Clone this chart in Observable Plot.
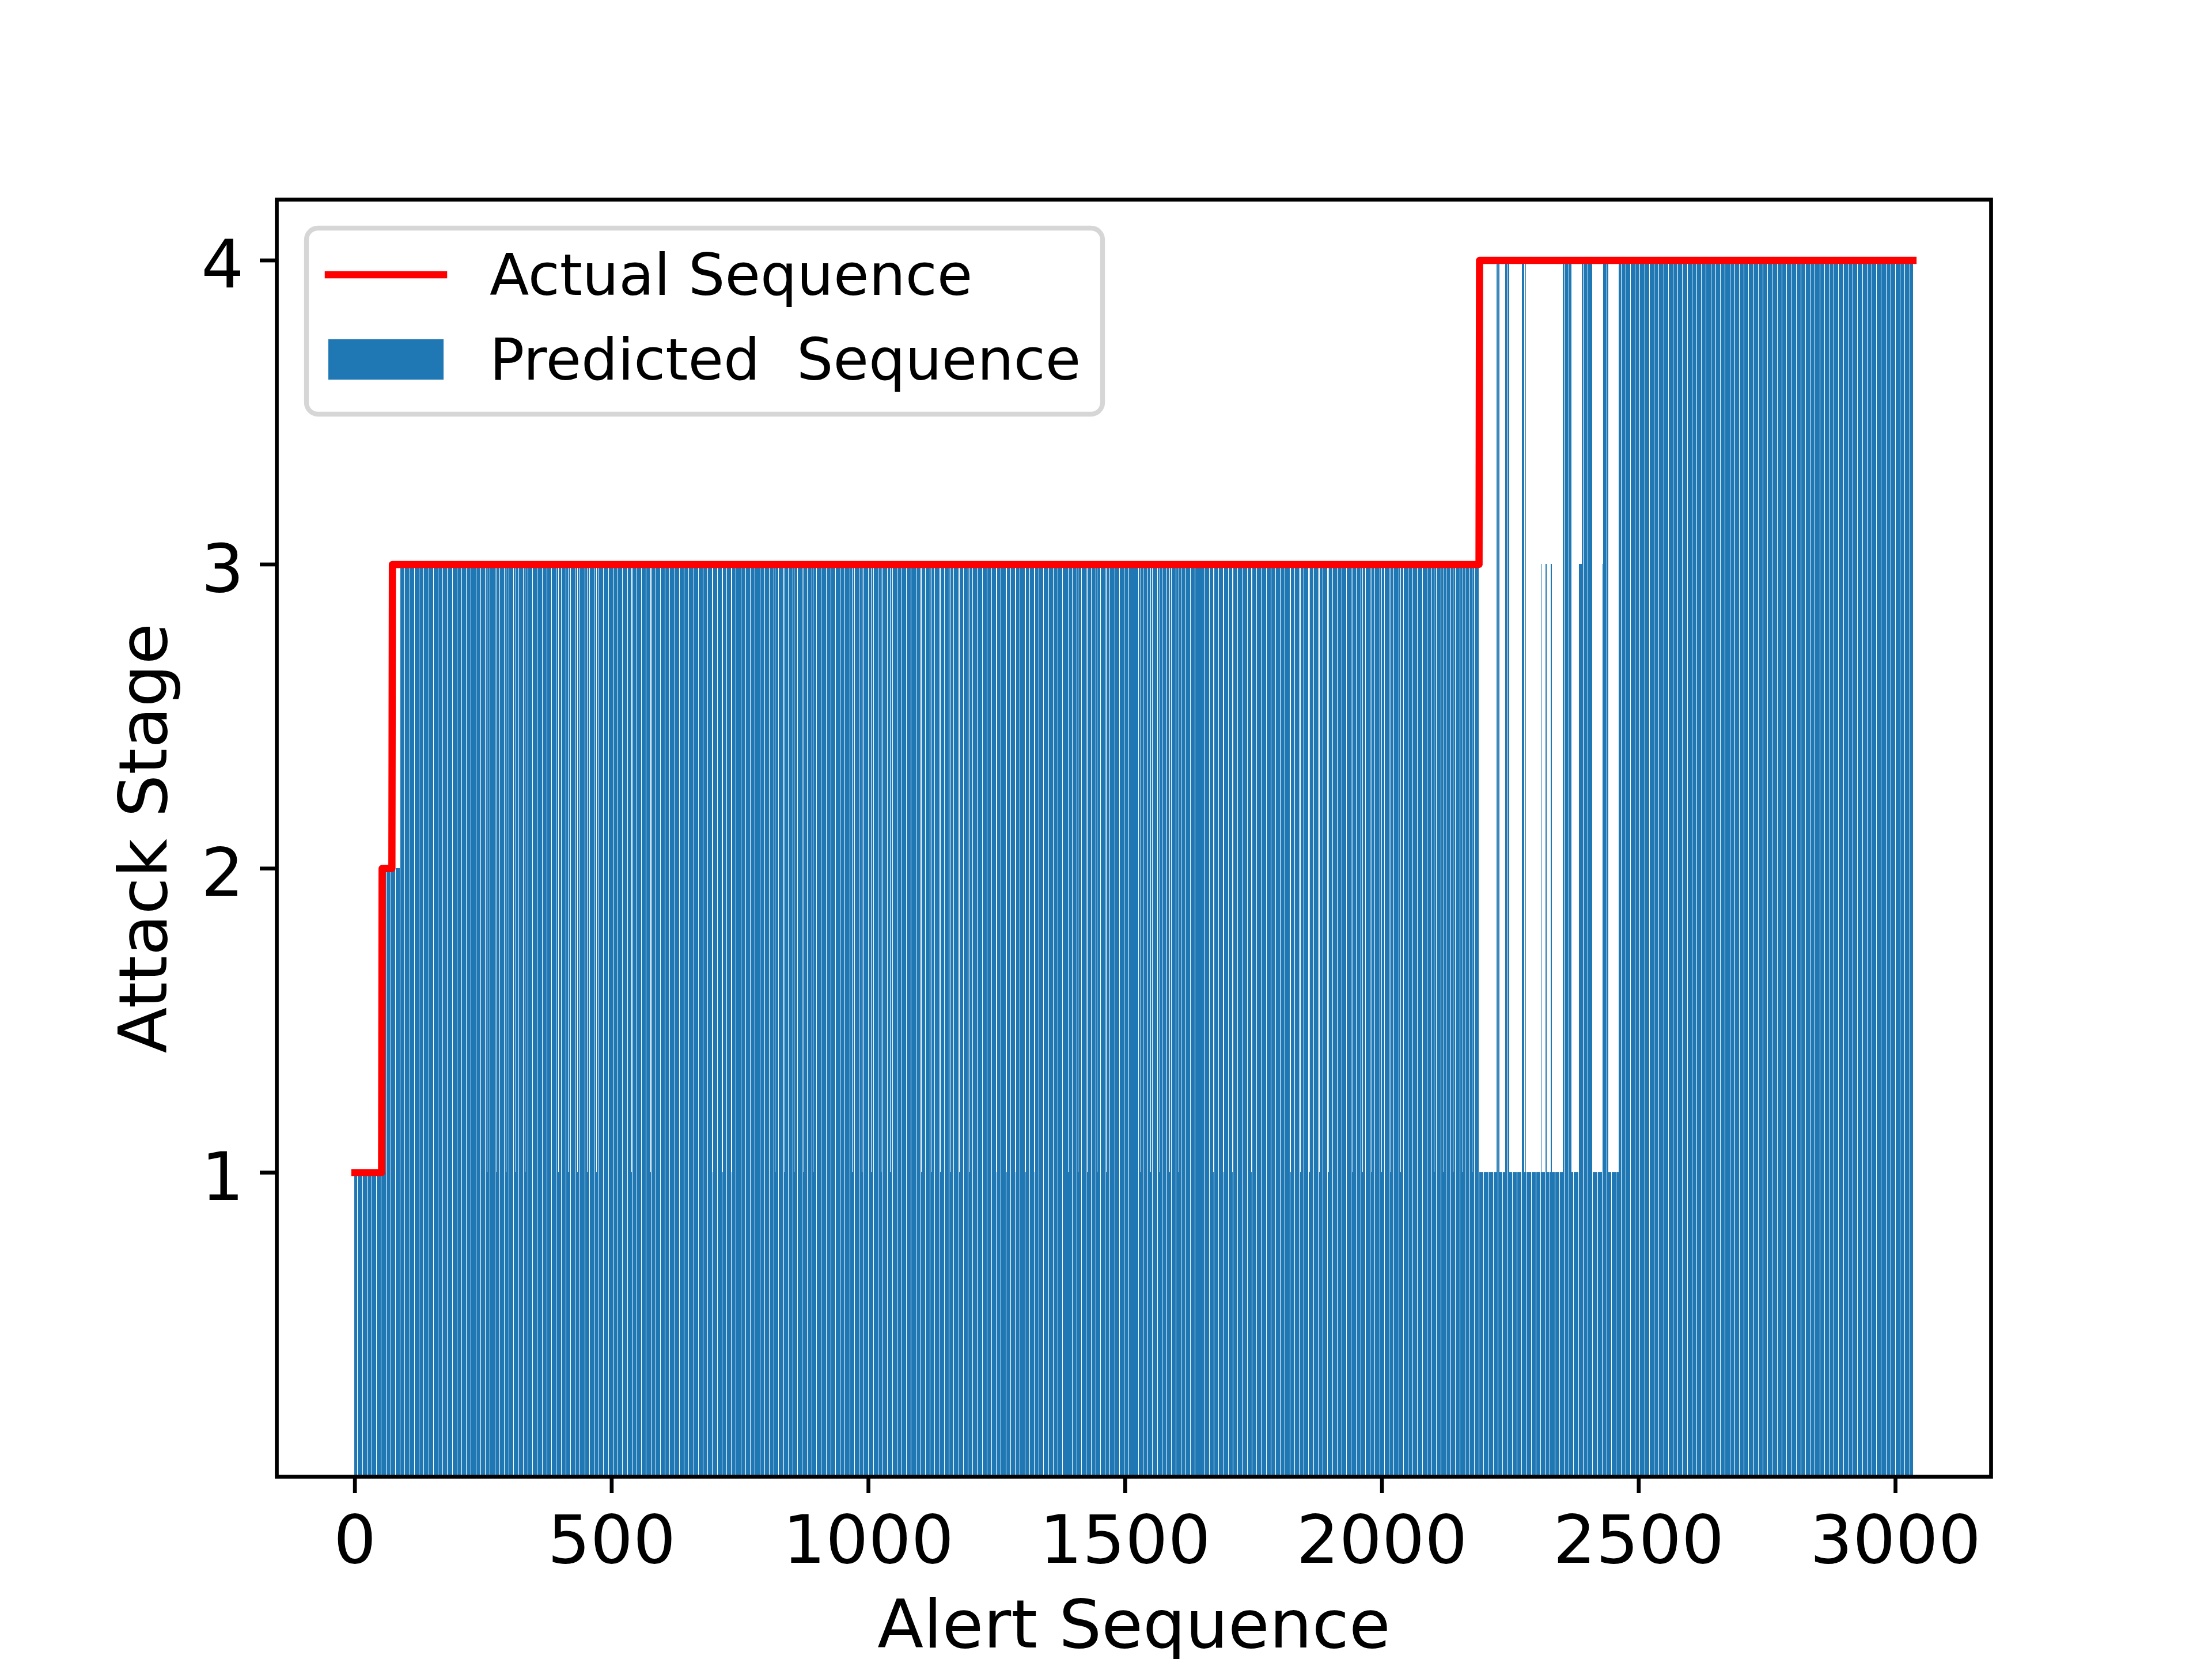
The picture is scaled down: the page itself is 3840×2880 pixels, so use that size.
<!DOCTYPE html>
<html>
<head>
<meta charset="utf-8">
<script src="https://cdn.jsdelivr.net/npm/d3@7"></script>
<script src="https://cdn.jsdelivr.net/npm/@observablehq/plot@0.6"></script>
<style>
  html, body { margin: 0; padding: 0; background: white; }
  #wrap { position: relative; width: 3840px; height: 2880px; overflow: hidden; }
  #legend { position: absolute; left: 0; top: 0; pointer-events: none; }
</style>
</head>
<body>
<div id="wrap"></div>
<script>
// ---------- data ----------
const nAlerts = 3035;                       // bars drawn for alerts 0 .. 3034
const actualStarts = [0, 53, 73, 2190];     // first alert of each actual stage
const actualStages = [1, 2, 3, 4];

// runs of the predicted stage (first alert of each run, and its stage)
const predictedStarts = [0, 60, 88, 2191, 2224, 2230, 2241, 2249, 2272, 2278, 2280, 2282,
  2300, 2302, 2310, 2312, 2320, 2322, 2330, 2332, 2353, 2370, 2383, 2390, 2412, 2429, 2432, 2442, 2462];
const predictedStages = [1, 2, 3, 1, 4, 1, 4, 1, 4, 1, 4, 1,
  3, 1, 3, 1, 3, 1, 3, 1, 4, 1, 3, 4, 1, 3, 4, 1, 4];

// scattered alerts inside the stage-3 run that were predicted as stage 1
const predictedStage1Alerts = [
  107,126,144,163,181,200,
  258,277,295,314,332,
  397,416,434,453,471,
  539,558,576,595,613,
  679,698,717,735,753,
  819,838,856,875,893,
  969,988,1006,1025,1043,
  1104,1123,1141,1160,1178,1197,
  1251,1270,1288,1307,1325,
  1390,1409,1427,1446,1464,
  1531,1550,1568,1587,1605,
  1672,1691,1709,1728,1746,1765,
  1823,1842,1860,1879,1897,
  1944,1963,1981,2000,2018,2037,
  2102,2121,2139,2158,2176
];

const xTicks = [0, 500, 1000, 1500, 2000, 2500, 3000];
const yTicks = [1, 2, 3, 4];
const xLabel = "Alert Sequence";
const yLabel = "Attack Stage";
const legendLabels = ["Actual Sequence", "Predicted  Sequence"];

// ---------- build the table ----------
function runValue(starts, values, i) {
  let v = values[0];
  for (let k = 0; k < starts.length; k++) if (starts[k] <= i) v = values[k];
  return v;
}
const stage1Set = new Set(predictedStage1Alerts);
const alerts = d3.range(nAlerts).map(i => ({
  i,
  actual: runValue(actualStarts, actualStages, i),
  predicted: stage1Set.has(i) ? 1 : runValue(predictedStarts, predictedStages, i)
}));

// matplotlib-like autoscale of the bar extent (5% margins)
const xLo = -0.4, xHi = nAlerts - 0.6, pad = 0.05 * (xHi - xLo);
const blue = "#1f77b4";
const F = 116.7;   // 14pt at 600 dpi

const chart = Plot.plot({
  width: 3840,
  height: 2880,
  marginLeft: 480,
  marginRight: 384,
  marginTop: 346,
  marginBottom: 317,
  style: {fontFamily: "DejaVu Sans", background: "white", color: "black", overflow: "visible"},
  x: {domain: [xLo - pad, xHi + pad]},
  y: {domain: [0, 4.2]},
  marks: [
    Plot.rect(alerts, {
      x1: d => d.i - 0.44, x2: d => d.i + 0.44,
      y1: 0, y2: d => d.predicted,
      fill: blue, shapeRendering: "crispEdges"
    }),
    Plot.line(alerts, {
      x: "i", y: "actual", stroke: "red", strokeWidth: 12.5,
      strokeLinejoin: "round", strokeLinecap: "square"
    }),
    Plot.frame({stroke: "black", strokeWidth: 6.7}),
    Plot.axisX({ticks: xTicks, tickSize: 29, tickPadding: 38, fontSize: F,
      strokeWidth: 6.7, tickFormat: d => String(d), label: null}),
    Plot.axisY({ticks: yTicks, tickSize: 29, strokeWidth: 6.7, fill: "none", label: null}),
    Plot.axisY({ticks: yTicks, tickSize: 29, tickPadding: 28, stroke: "none", fontSize: F,
      dy: 10, tickFormat: d => String(d), label: null}),
    Plot.text([xLabel], {text: d => d, frameAnchor: "bottom", dy: 296,
      lineAnchor: "bottom", textAnchor: "middle", fontSize: F, fill: "black"}),
    Plot.text([yLabel], {text: d => d, frameAnchor: "left", dx: -192, rotate: -90,
      lineAnchor: "bottom", textAnchor: "middle", fontSize: F, fill: "black"})
  ]
});
const wrap = document.getElementById("wrap");
wrap.appendChild(chart);

// ---------- legend overlay ----------
const lg = d3.select(wrap).append("svg")
  .attr("id", "legend").attr("width", 3840).attr("height", 2880)
  .style("font-family", "DejaVu Sans");
lg.append("rect")
  .attr("x", 532).attr("y", 396).attr("width", 1382).attr("height", 323)
  .attr("rx", 20).attr("ry", 20)
  .attr("fill", "white").attr("fill-opacity", 0.8)
  .attr("stroke", "#cccccc").attr("stroke-opacity", 0.8).attr("stroke-width", 8.3);
lg.append("line")
  .attr("x1", 570).attr("x2", 770).attr("y1", 477).attr("y2", 477)
  .attr("stroke", "red").attr("stroke-width", 12.5).attr("stroke-linecap", "square");
lg.append("rect")
  .attr("x", 570).attr("y", 589).attr("width", 200).attr("height", 70)
  .attr("fill", blue);
lg.selectAll("text.lab").data(legendLabels).join("text")
  .attr("class", "lab")
  .attr("x", 850).attr("y", (d, k) => k === 0 ? 512 : 659)
  .attr("font-size", 100).attr("fill", "black")
  .style("white-space", "pre")
  .text(d => d);
</script>
</body>
</html>
